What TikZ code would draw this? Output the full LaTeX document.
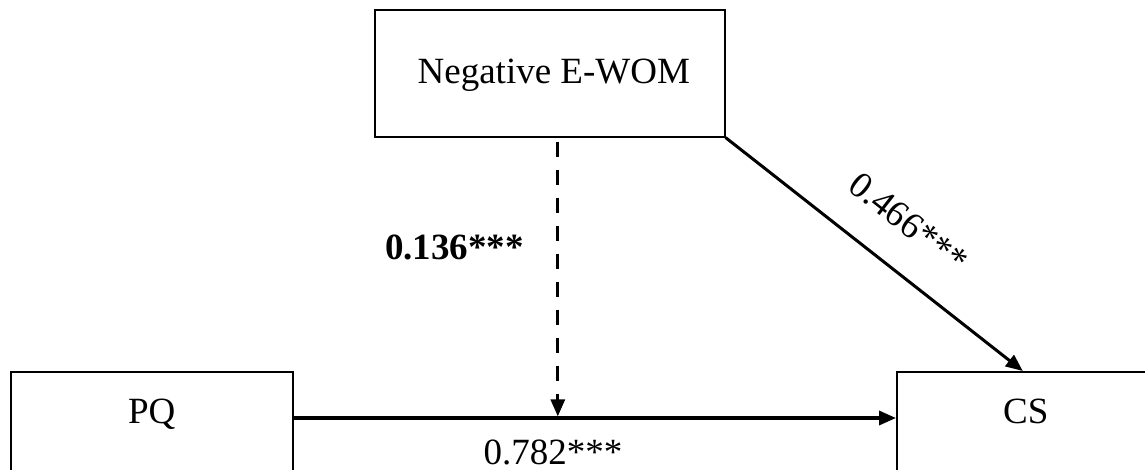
\documentclass[tikz,border=0pt]{standalone}
\usepackage{fontspec}
\setmainfont{Liberation Serif}
\usetikzlibrary{arrows.meta,calc}
\begin{document}
\begin{tikzpicture}[x=1pt,y=-1pt,
  txt/.style={font=\fontsize{37}{44}\selectfont},
  box/.style={txt, draw, line width=1.6pt, inner xsep=0pt, inner ysep=0pt, anchor=north west},
  lbl/.style={txt, inner sep=0pt},
  conn/.style={line width=3pt, -{Triangle[length=17pt,width=14pt]}}]
\clip (0,0) rectangle (1145,470);
\useasboundingbox (0,0) rectangle (1145,470);
\fill[white] (0,0) rectangle (1145,470);

\node[box, minimum width=350pt, minimum height=127pt, text height=74pt, text depth=53pt] (neg) at (374,9) {\hspace*{8pt}Negative E-WOM};
\node[box, minimum width=282pt, minimum height=140pt, text height=52pt, text depth=88pt] (pq) at (10,371) {PQ};
\node[box, minimum width=258pt, minimum height=140pt, text height=52pt, text depth=88pt] (cs) at (896,371) {CS};

\coordinate (hl) at ([yshift=-47pt]pq.north east);
\coordinate (hr) at ([yshift=-47pt]cs.north west);
\coordinate (top) at ([xshift=8pt]neg.south);
\coordinate (m) at (top |- hl);

\draw[conn, line width=3.4pt] (hl) -- (hr);
\draw[conn, dash pattern=on 15pt off 13pt, shorten <=4pt, shorten >=1.6pt] (top) -- (m);
\draw[conn] (neg.south east) -- ([xshift=-3pt]cs.north)
  node[lbl, sloped, above=32pt, pos=0.52] (l466) {0.466***};

\node[lbl, font=\fontsize{37}{44}\selectfont\bfseries, anchor=base west] (l136) at (385,260) {0.136***};
\node[lbl, anchor=base] (l782) at (553,464) {0.782***};
\end{tikzpicture}
\end{document}
